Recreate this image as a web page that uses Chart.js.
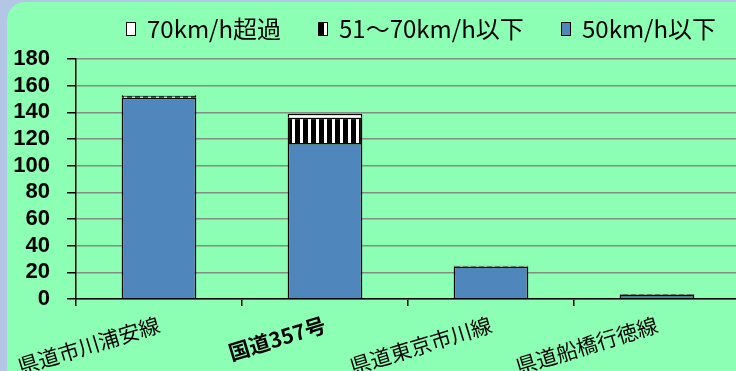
<!DOCTYPE html>
<html><head><meta charset="utf-8">
<script src="https://cdn.jsdelivr.net/npm/chart.js@4.4.1/dist/chart.umd.min.js"></script>
<style>
html,body{margin:0;padding:0;width:736px;height:371px;overflow:hidden;background:#B4C6E6;}
#bg{position:absolute;left:7px;top:2px;right:-20px;bottom:-20px;background:#8CFFB4;border-top-left-radius:18px;}
#wrap{position:absolute;left:0;top:0;width:740px;height:371px;}
</style></head>
<body><div id="bg"></div><div id="wrap"><canvas id="c" width="740" height="371"></canvas></div>
<script>
const categories = ['県道市川浦安線', '国道357号', '県道東京市川線', '県道船橋行徳線'];
const under50 = [151, 117, 24.4, 3];
const from51to70 = [1.5, 19, 0.6, 0.5];
const over70 = [0.5, 3, 0.2, 0];
const seriesNames = ['50km/h以下', '51～70km/h以下', '70km/h超過'];
const yTicks = [0, 20, 40, 60, 80, 100, 120, 140, 160, 180];

function stripePattern() {
  const c = document.createElement('canvas');
  c.width = 8; c.height = 8;
  const g = c.getContext('2d');
  g.fillStyle = '#000'; g.fillRect(0, 0, 8, 8);
  g.fillStyle = '#fff'; g.fillRect(4, 0, 3, 8);
  return g.createPattern(c, 'repeat');
}
const stripes = stripePattern();

const legendBoxX = [126, 318, 561];
const legendPlugin = {
  id: 'customLegend',
  afterDraw(chart) {
    const ctx = chart.ctx;
    ctx.save();
    ctx.font = '24px "Noto Sans CJK JP"';
    ctx.textBaseline = 'middle';
    const y = 29;
    const ds = chart.data.datasets.slice().reverse();
    ds.forEach((d, i) => {
      const x = legendBoxX[i];
      ctx.fillStyle = d.backgroundColor;
      ctx.fillRect(x, y - 7, 10, 14);
      ctx.strokeStyle = '#000';
      ctx.lineWidth = 1;
      ctx.strokeRect(x + 0.5, y - 6.5, 9, 13);
      ctx.fillStyle = '#000';
      ctx.fillText(d.label, x + 21, y);
    });
    ctx.restore();
  }
};

new Chart(document.getElementById('c'), {
  type: 'bar',
  data: {
    labels: categories,
    datasets: [
      { label: seriesNames[0], data: under50, backgroundColor: '#4F86BC', borderColor: '#000', borderWidth: 1.5 },
      { label: seriesNames[1], data: from51to70, backgroundColor: stripes, borderColor: '#000', borderWidth: 1.5 },
      { label: seriesNames[2], data: over70, backgroundColor: '#ffffff', borderColor: '#000', borderWidth: 1.5 }
    ]
  },
  options: {
    responsive: false,
    animation: false,
    layout: { padding: { top: 59, left: 0, right: 0, bottom: 0 } },
    datasets: { bar: { categoryPercentage: 1, barPercentage: 0.45 } },
    plugins: { legend: { display: false }, tooltip: { enabled: false } },
    scales: {
      x: {
        stacked: true,
        afterFit: s => { s.height = 72; },
        grid: { offset: true, drawOnChartArea: false, drawTicks: true, tickLength: 7, color: '#000', lineWidth: 1.5 },
        border: { color: '#000', width: 1.5 },
        ticks: {
          autoSkip: false, minRotation: 17, maxRotation: 17, padding: 6, color: '#000',
          font: ctx => ({ family: '"Noto Sans CJK JP"', size: 21, weight: ctx.index === 1 ? 'bold' : 'normal' })
        }
      },
      y: {
        stacked: true,
        min: 0, max: 180,
        afterFit: s => { s.width = 76; },
        afterBuildTicks: s => { s.ticks = yTicks.map(v => ({ value: v })); },
        grid: { color: '#848c84', lineWidth: 1.5, tickColor: '#000', tickLength: 9 },
        border: { color: '#000', width: 1.5 },
        ticks: { autoSkip: false, color: '#000', padding: 17, font: { family: '"Liberation Sans"', size: 22, weight: 'bold' } }
      }
    }
  },
  plugins: [legendPlugin]
});
</script>
</body></html>
